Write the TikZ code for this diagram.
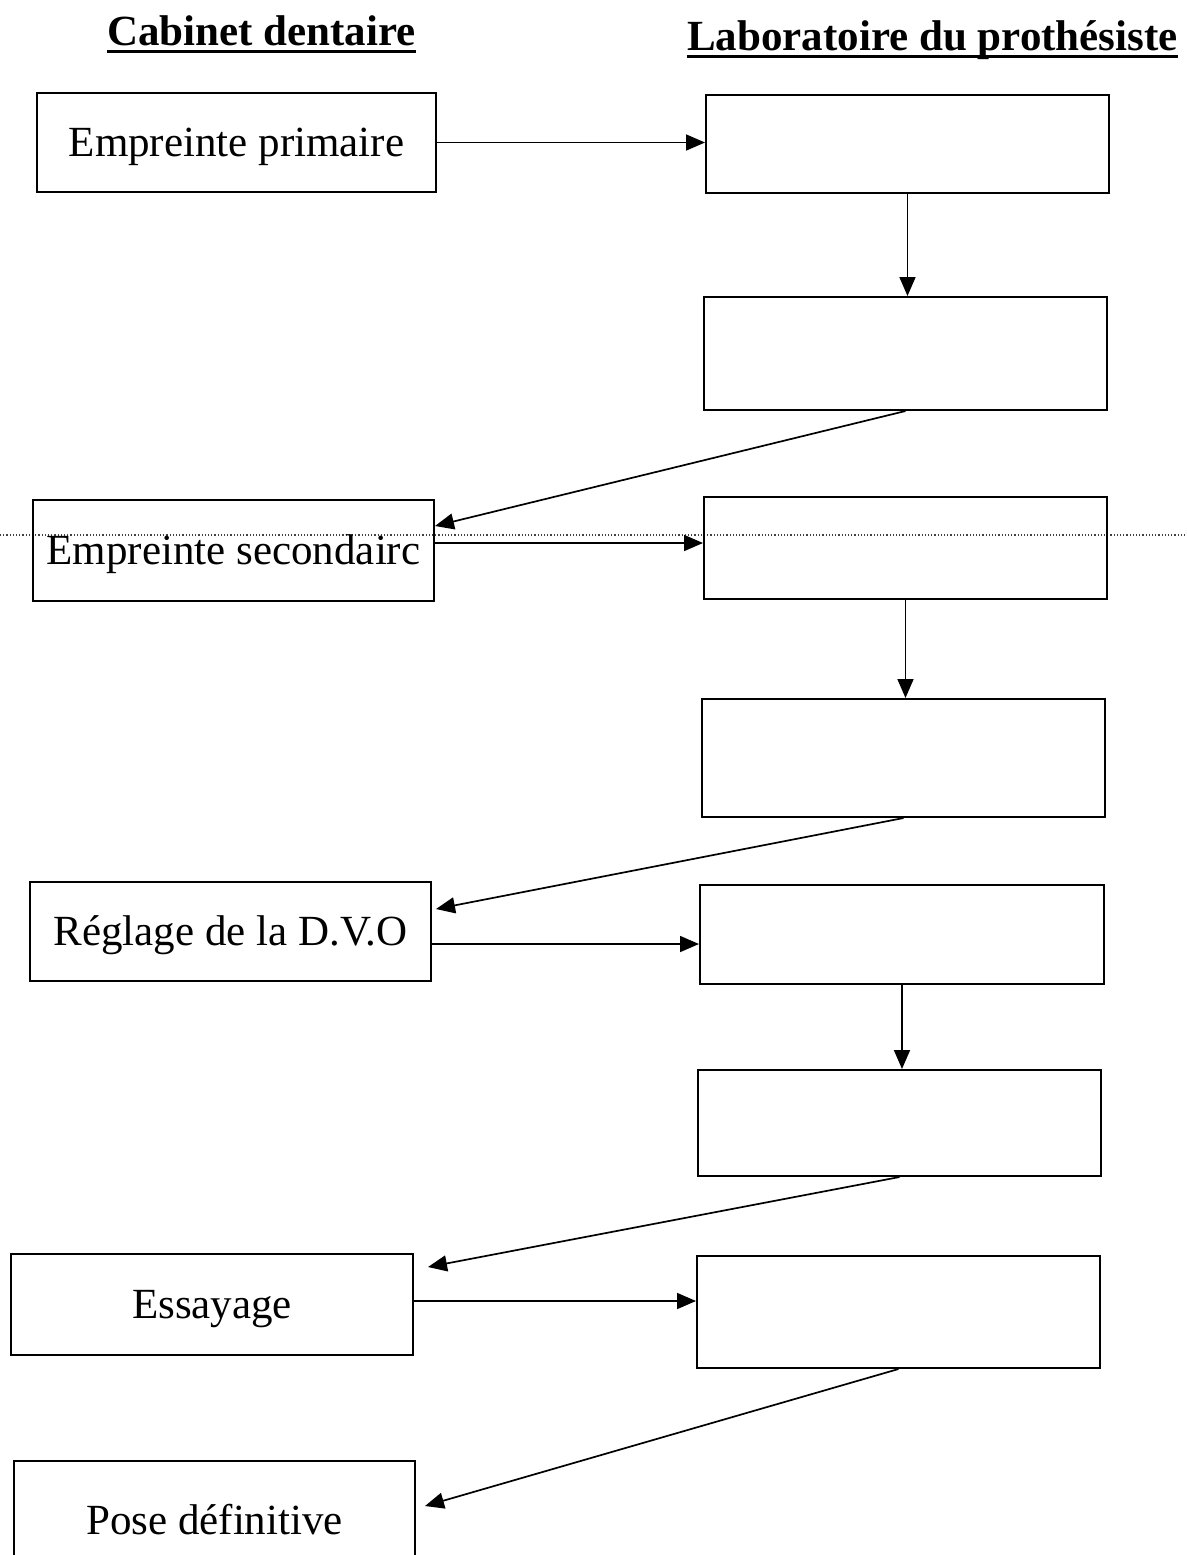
\documentclass[tikz,border=0pt]{standalone}
\usepackage{fontspec}
\setmainfont{Liberation Serif}
\usetikzlibrary{arrows.meta,calc}
\newcommand\myul[1]{\setbox0\hbox{#1}\rlap{\vrule height -2.6pt depth 4.1pt width \wd0}\box0}
\begin{document}
\begin{tikzpicture}[x=0.5pt,y=-0.5pt,
  txt/.style={font=\fontsize{21.5}{26}\selectfont},
  hdr/.style={font=\fontsize{21.5}{26}\selectfont\bfseries, anchor=base, inner sep=0pt},
  box/.style={draw, line width=1pt, txt, text height=14.2pt, text depth=0pt, inner sep=0pt},
  bx/.style 2 args={minimum width=#1*0.5pt, minimum height=#2*0.5pt},
  arr/.style={line width=0.85pt, -{Triangle[length=9.5pt,width=8pt]}},
  sep/.style={densely dotted, line width=0.6pt, black!75}]
\fill[white] (0,0) rectangle (1187,1555);
\useasboundingbox (0,0) rectangle (1187,1555);
\clip (0,0) rectangle (1187,1555);

% separator
\draw[sep] (0,535) -- (1187,535);

% headers
\node[hdr] (h1) at (261.5,45) {\myul{Cabinet dentaire}};
\node[hdr] (h2) at (932.5,50) {\myul{Laboratoire du prothésiste}};

% left column
\node[box, bx={399}{99}]  (L1) at (236.5,142.5) {Empreinte primaire};
\node[box, bx={401}{101}] (L2) at (233.5,550.5) {Empreinte secondairc};
\node[box, bx={401}{99}]  (L3) at (230.5,931.5) {Réglage de la D.V.O};
\node[box, bx={402}{101}] (L4) at (212,1304.5)  {Essayage};
\node[box, bx={401}{119}] (L5) at (214.5,1520.5) {Pose définitive};

% right column
\node[box, bx={403}{98}]  (R1) at (907.5,144)  {};
\node[box, bx={403}{113}] (R2) at (905.5,353.5) {};
\node[box, bx={403}{102}] (R3) at (905.5,548)  {};
\node[box, bx={403}{118}] (R4) at (903.5,758)  {};
\node[box, bx={404}{99}]  (R5) at (902,934.5)  {};
\node[box, bx={403}{106}] (R6) at (899.5,1123) {};
\node[box, bx={403}{112}] (R7) at (898.5,1312) {};

% helper coordinates
\coordinate (t3)  at ($(L2.north east)+(0,27)$);
\coordinate (s4)  at ($(L2.east)+(0,-7.5)$);
\coordinate (t6)  at ($(L3.north east)+(4,28)$);
\coordinate (s7)  at ($(L3.east)+(0,12.5)$);
\coordinate (t9)  at ($(L4.north east)+(14,14)$);
\coordinate (s10) at ($(L4.east)+(0,-3.5)$);
\coordinate (t11) at ($(L5.north east)+(9,46)$);

% connectors
\draw[arr] (L1.east) -- (L1.east -| R1.west);
\draw[arr] (R1.south) -- (R1.south |- R2.north);
\draw[arr] (R2.south) -- (t3);
\draw[arr] (s4) -- (s4 -| R3.west);
\draw[arr] (R3.south) -- (R3.south |- R4.north);
\draw[arr] (R4.south) -- (t6);
\draw[arr] (s7) -- (s7 -| R5.west);
\draw[arr] (R5.south) -- (R5.south |- R6.north);
\draw[arr] (R6.south) -- (t9);
\draw[arr] (s10) -- (s10 -| R7.west);
\draw[arr] (R7.south) -- (t11);
\end{tikzpicture}
\end{document}
